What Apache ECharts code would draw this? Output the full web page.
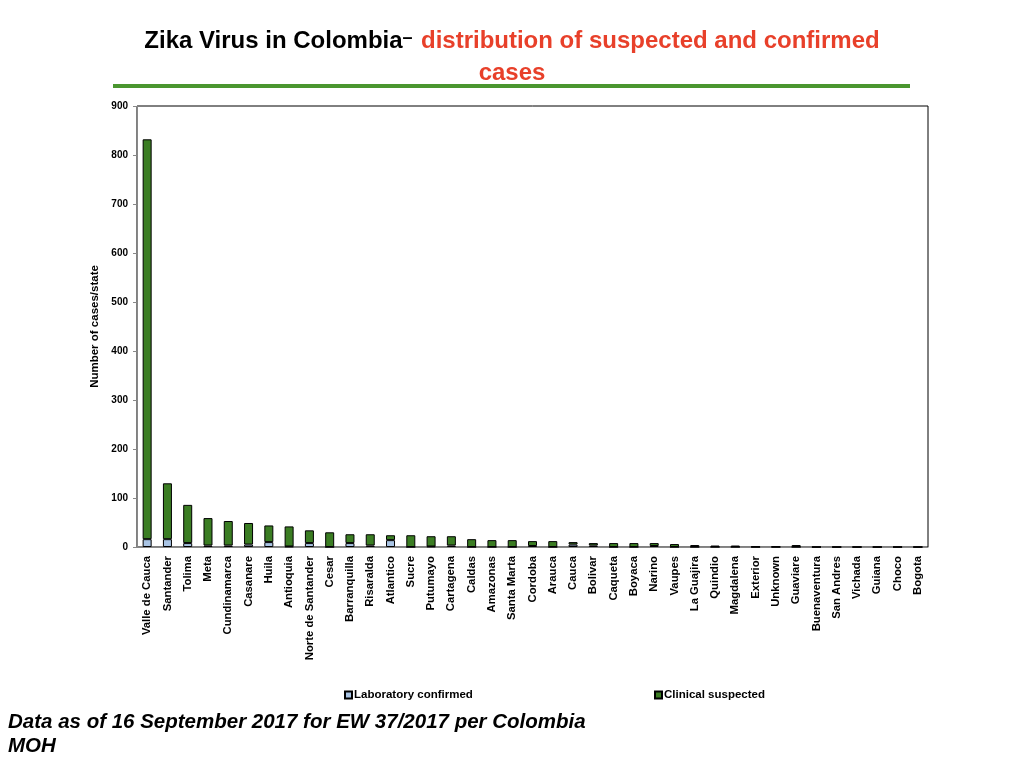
<!DOCTYPE html>
<html>
<head>
<meta charset="utf-8">
<script src="https://cdn.jsdelivr.net/npm/echarts@6/dist/echarts.min.js"></script>
<style>
html,body{margin:0;padding:0;background:#fff;}
#c{width:1024px;height:768px;}
</style>
</head>
<body>
<div id="c"></div>
<script>
var categories = ["Valle de Cauca","Santander","Tolima","Meta","Cundinamarca","Casanare","Huila","Antioquia","Norte de Santander","Cesar","Barranquilla","Risaralda","Atlantico","Sucre","Putumayo","Cartagena","Caldas","Amazonas","Santa Marta","Cordoba","Arauca","Cauca","Bolivar","Caqueta","Boyaca","Narino","Vaupes","La Guajira","Quindio","Magdalena","Exterior","Unknown","Guaviare","Buenaventura","San Andres","Vichada","Guiana","Choco","Bogota"];
var labConfirmed = [16,16,8,3,3,5,10,1,8,0,8,3,14,0,1,3,0,0,0,2,0,5,3,0,0,2,0,0,0,0,0,0,0,0,0,0,0,0,0];
var clinicalSuspected = [816,114,78,56,50,44,34,41,26,30,18,23,10,24,21,19,16,14,14,10,12,5,5,8,8,6,6,4,3,3,1,1,4,0,0,0,0,0,0];
var yTicks = [0,100,200,300,400,500,600,700,800,900];

var chart = echarts.init(document.getElementById('c'));
var FF = '"Liberation Sans", Arial, sans-serif';
chart.setOption({
  animation: false,
  grid: {left:137, right:96, top:106, bottom:221, show:true, borderColor:'#000', borderWidth:1},
  legend: [
    {data:['Laboratory confirmed'], left:339, top:684, itemWidth:7, itemHeight:7, itemGap:4, icon:'rect',
     textStyle:{fontFamily:FF, fontWeight:'bold', fontSize:11.5, color:'#000', padding:[0,0,0,-3]}},
    {data:['Clinical suspected'], left:649, top:684, itemWidth:7, itemHeight:7, itemGap:4, icon:'rect',
     textStyle:{fontFamily:FF, fontWeight:'bold', fontSize:11.5, color:'#000', padding:[0,0,0,-3]}}
  ],
  xAxis: {
    type:'category', data:categories,
    axisLine:{lineStyle:{color:'#888'}},
    axisTick:{lineStyle:{color:'#888'}, length:4},
    axisLabel:{rotate:90, interval:0, fontFamily:FF, fontWeight:'bold', fontSize:11.3, color:'#000', margin:9}
  },
  yAxis: {
    type:'value', min:yTicks[0], max:yTicks[yTicks.length-1], interval:100,
    name:'Number of cases/state', nameLocation:'middle', nameGap:33,
    nameTextStyle:{fontFamily:FF, fontWeight:'bold', fontSize:11.5, color:'#000'},
    axisLine:{show:true, lineStyle:{color:'#888'}},
    axisTick:{show:true, lineStyle:{color:'#888'}, length:4},
    splitLine:{show:false},
    axisLabel:{fontFamily:FF, fontWeight:'bold', fontSize:10, color:'#000', margin:9}
  },
  series: [
    {name:'Laboratory confirmed', type:'bar', stack:'t', data:labConfirmed, barWidth:9,
     itemStyle:{color:'#a9c4e4', borderColor:'#000', borderWidth:1}},
    {name:'Clinical suspected', type:'bar', stack:'t', data:clinicalSuspected, barWidth:9,
     itemStyle:{color:'#3b7d23', borderColor:'#000', borderWidth:1}}
  ],
  graphic: [
    {type:'text', left:'center', top:29, style:{
      text:'{a|Zika Virus in Colombia}{d|– } {b|distribution of suspected and confirmed}',
      rich:{
        a:{fontFamily:FF, fontWeight:'bold', fontSize:24, fill:'#000'},
        d:{fontFamily:FF, fontWeight:'bold', fontSize:18, fill:'#000', verticalAlign:'top'},
        b:{fontFamily:FF, fontWeight:'bold', fontSize:24, fill:'#e8402a'}
      }}},
    {type:'text', left:'center', top:61, style:{text:'cases', fontFamily:FF, fontWeight:'bold', fontSize:24, fill:'#e8402a'}},
    {type:'line', shape:{x1:113, y1:86, x2:910, y2:86}, style:{stroke:'#4a962f', lineWidth:4}},
    {type:'text', left:8, top:710, style:{text:'Data as of 16 September 2017 for EW 37/2017 per Colombia\nMOH',
      fontFamily:FF, fontWeight:'bold', fontStyle:'italic', fontSize:20.5, lineHeight:24, fill:'#000'}}
  ]
});
</script>
</body>
</html>
